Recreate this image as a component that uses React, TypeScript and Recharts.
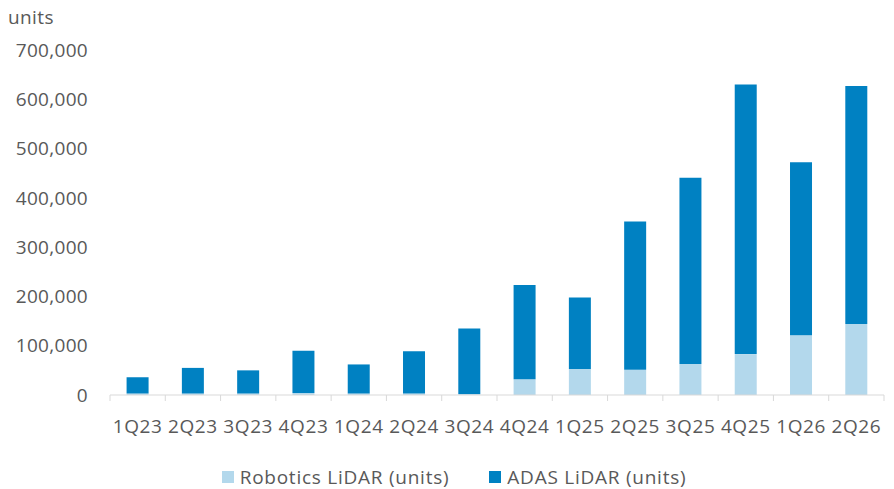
import { BarChart, Bar, XAxis, YAxis, Legend } from "recharts";

const quarters = [
  "1Q23", "2Q23", "3Q23", "4Q23", "1Q24", "2Q24", "3Q24",
  "4Q24", "1Q25", "2Q25", "3Q25", "4Q25", "1Q26", "2Q26",
];
const roboticsUnits = [3000, 3000, 3000, 4000, 3000, 3000, 2000, 32000, 53000, 51000, 63000, 83000, 121000, 144000];
const adasUnits = [33000, 52000, 47000, 86000, 59000, 86000, 133000, 191000, 145000, 301000, 378000, 547000, 351000, 483000];
const yTicks = [0, 100000, 200000, 300000, 400000, 500000, 600000, 700000];

const data = quarters.map((q, i) => ({
  quarter: q,
  robotics: roboticsUnits[i],
  adas: adasUnits[i],
}));

const W = 894;
const H = 489;
const PLOT_LEFT = 110;
const PLOT_RIGHT = 884;
const AXIS_Y = 395;
const band = (PLOT_RIGHT - PLOT_LEFT) / quarters.length;
const font = "'Open Sans', sans-serif";
const textColor = "#595959";
const lightBlue = "#b3d8ec";
const darkBlue = "#0081c2";

const QuarterTick = (props: any) => {
  const { x, payload, index } = props;
  return (
    <g>
      <line x1={x - band / 2} x2={x - band / 2} y1={AXIS_Y} y2={AXIS_Y + 6} stroke="#d9d9d9" />
      {index === quarters.length - 1 && (
        <line x1={x + band / 2} x2={x + band / 2} y1={AXIS_Y} y2={AXIS_Y + 6} stroke="#d9d9d9" />
      )}
      <text
        x={x}
        y={AXIS_Y + 38}
        textAnchor="middle"
        fill={textColor}
        fontSize={19}
        fontFamily={font}
        letterSpacing={0.6}
      >
        {payload.value}
      </text>
    </g>
  );
};

const LegendBox = () => {
  const items = [
    { label: "Robotics LiDAR (units)", color: lightBlue },
    { label: "ADAS LiDAR (units)", color: darkBlue },
  ];
  return (
    <div style={{ display: "flex", justifyContent: "center", gap: 40, height: 44, alignItems: "center", paddingLeft: 24, paddingTop: 20, boxSizing: "border-box" }}>
      {items.map((it) => (
        <div
          key={it.label}
          style={{ display: "flex", alignItems: "center", fontFamily: font, fontSize: 19, color: textColor, letterSpacing: 0.75 }}
        >
          <span style={{ width: 12, height: 12, background: it.color, display: "inline-block", marginRight: 6 }} />
          {it.label}
        </div>
      ))}
    </div>
  );
};

export default function App() {
  return (
    <div style={{ position: "absolute", left: 0, top: 0, width: W, height: H, background: "#fff" }}>
      <div style={{ position: "absolute", left: 8, top: 4, fontFamily: font, fontSize: 19, color: textColor, letterSpacing: 0.4 }}>
        units
      </div>
      <BarChart
        width={W}
        height={H}
        data={data}
        margin={{ top: 50, right: W - PLOT_RIGHT, left: 0, bottom: 0 }}
        barCategoryGap="30%"
      >
        <XAxis
          dataKey="quarter"
          height={50}
          interval={0}
          tickLine={false}
          axisLine={{ stroke: "#d9d9d9" }}
          tick={<QuarterTick />}
        />
        <YAxis
          width={PLOT_LEFT}
          domain={[0, 700000]}
          ticks={yTicks}
          axisLine={false}
          tickLine={false}
          tickMargin={16}
          tickFormatter={(v: number) => v.toLocaleString("en-US")}
          tick={{ fill: textColor, fontSize: 19, fontFamily: font, letterSpacing: 0.3 }}
        />
        <Legend verticalAlign="bottom" height={44} content={<LegendBox />} />
        <Bar dataKey="robotics" stackId="a" fill={lightBlue} isAnimationActive={false} />
        <Bar dataKey="adas" stackId="a" fill={darkBlue} isAnimationActive={false} />
      </BarChart>
    </div>
  );
}
